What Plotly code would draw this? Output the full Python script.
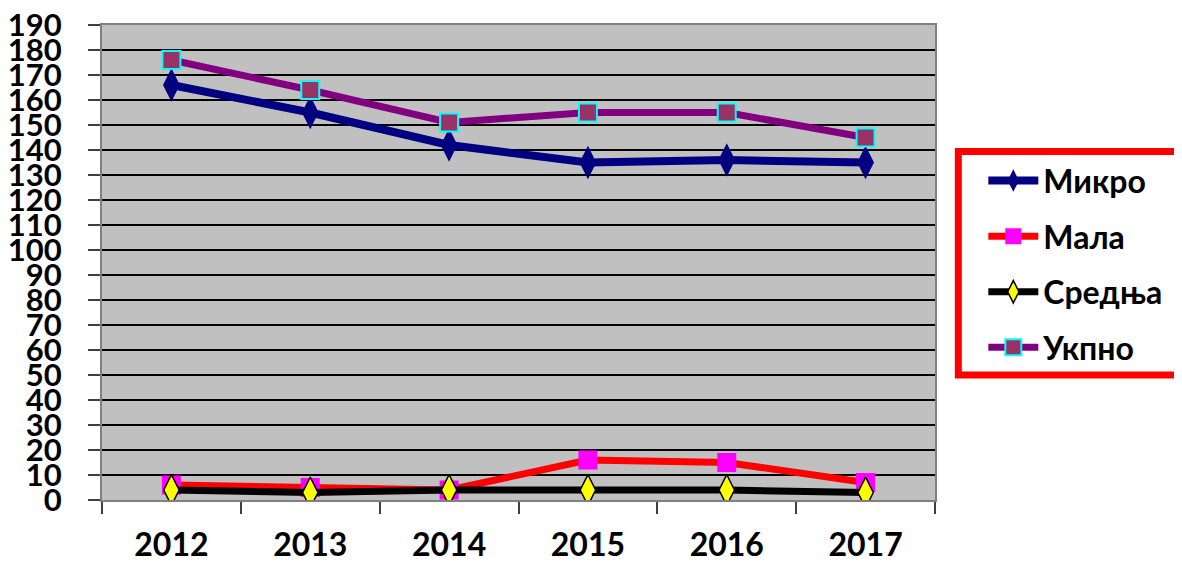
import plotly.graph_objects as go

years = ["2012", "2013", "2014", "2015", "2016", "2017"]
mikro = [166, 155, 142, 135, 136, 135]
mala = [6, 5, 4, 16, 15, 7]
srednja = [4, 3, 4, 4, 4, 3]
ukupno = [176, 164, 151, 155, 155, 145]
y_ticks = list(range(0, 191, 10))

FONT = "Lato, 'Open Sans', Arial, sans-serif"

fig = go.Figure()
fig.add_trace(go.Scatter(
    x=years, y=mikro, name="Микро", mode="lines+markers", legendgroup="a",
    line=dict(color="#000080", width=8),
    marker=dict(symbol="diamond-tall", size=24, color="#000080",
                line=dict(color="#000080", width=0))))
fig.add_trace(go.Scatter(
    x=years, y=mala, name="Мала", mode="lines+markers", legendgroup="b",
    line=dict(color="#FF0000", width=7),
    marker=dict(symbol="square", size=19, color="#FF00FF",
                line=dict(color="#FF00FF", width=0))))
fig.add_trace(go.Scatter(
    x=years, y=srednja, name="Средња", mode="lines+markers", legendgroup="c",
    line=dict(color="#000000", width=7),
    marker=dict(symbol="diamond-tall", size=22, color="#FFFF00",
                line=dict(color="#000000", width=1.5))))
fig.add_trace(go.Scatter(
    x=years, y=ukupno, name="Укпно", mode="lines+markers", legendgroup="d",
    line=dict(color="#800080", width=7),
    marker=dict(symbol="square", size=18, color="#993366",
                line=dict(color="#00FFFF", width=2))))

# the page body has an 8px margin, so the figure is 8px smaller and shifted
fig.update_layout(
    width=1174, height=554,
    margin=dict(l=94, r=247, t=17, b=62),
    paper_bgcolor="white",
    plot_bgcolor="#C0C0C0",
    font=dict(family=FONT, color="black"),
    showlegend=True,
    legend=dict(
        x=1.058, y=0.730, xanchor="left", yanchor="top",
        font=dict(family=FONT, size=32, color="black", weight="bold"),
        bgcolor="rgba(0,0,0,0)", borderwidth=0,
        traceorder="grouped", tracegroupgap=11,
        itemwidth=50,
    ),
    shapes=[dict(
        type="rect", xref="paper", yref="paper",
        x0=1.028, x1=1.33, y0=0.263, y1=0.7337,
        line=dict(color="#FF0000", width=7), fillcolor="rgba(0,0,0,0)",
    )],
)

fig.update_xaxes(
    type="category", range=[-0.5, 5.5], automargin=False,
    showgrid=False, ticks="outside", tickson="boundaries", ticklen=12,
    tickcolor="#404040", tickwidth=1.5,
    showline=True, linecolor="#808080", linewidth=2, mirror=True,
    tickfont=dict(family=FONT, size=32, color="black", weight="bold"),
    ticklabelstandoff=16, ticklabeloverflow="allow",
)
fig.update_yaxes(
    range=[0, 190], tickvals=y_ticks, ticktext=[str(v) for v in y_ticks],
    automargin=False,
    showgrid=True, gridcolor="#000000", gridwidth=1.5,
    ticks="outside", ticklen=12, tickcolor="#404040", tickwidth=1.5,
    showline=True, linecolor="#808080", linewidth=2, mirror=True,
    zeroline=False,
    tickfont=dict(family=FONT, size=31, color="black", weight="bold"),
    ticklabelstandoff=20, ticklabeloverflow="allow",
)

fig.write_html("out.html")
